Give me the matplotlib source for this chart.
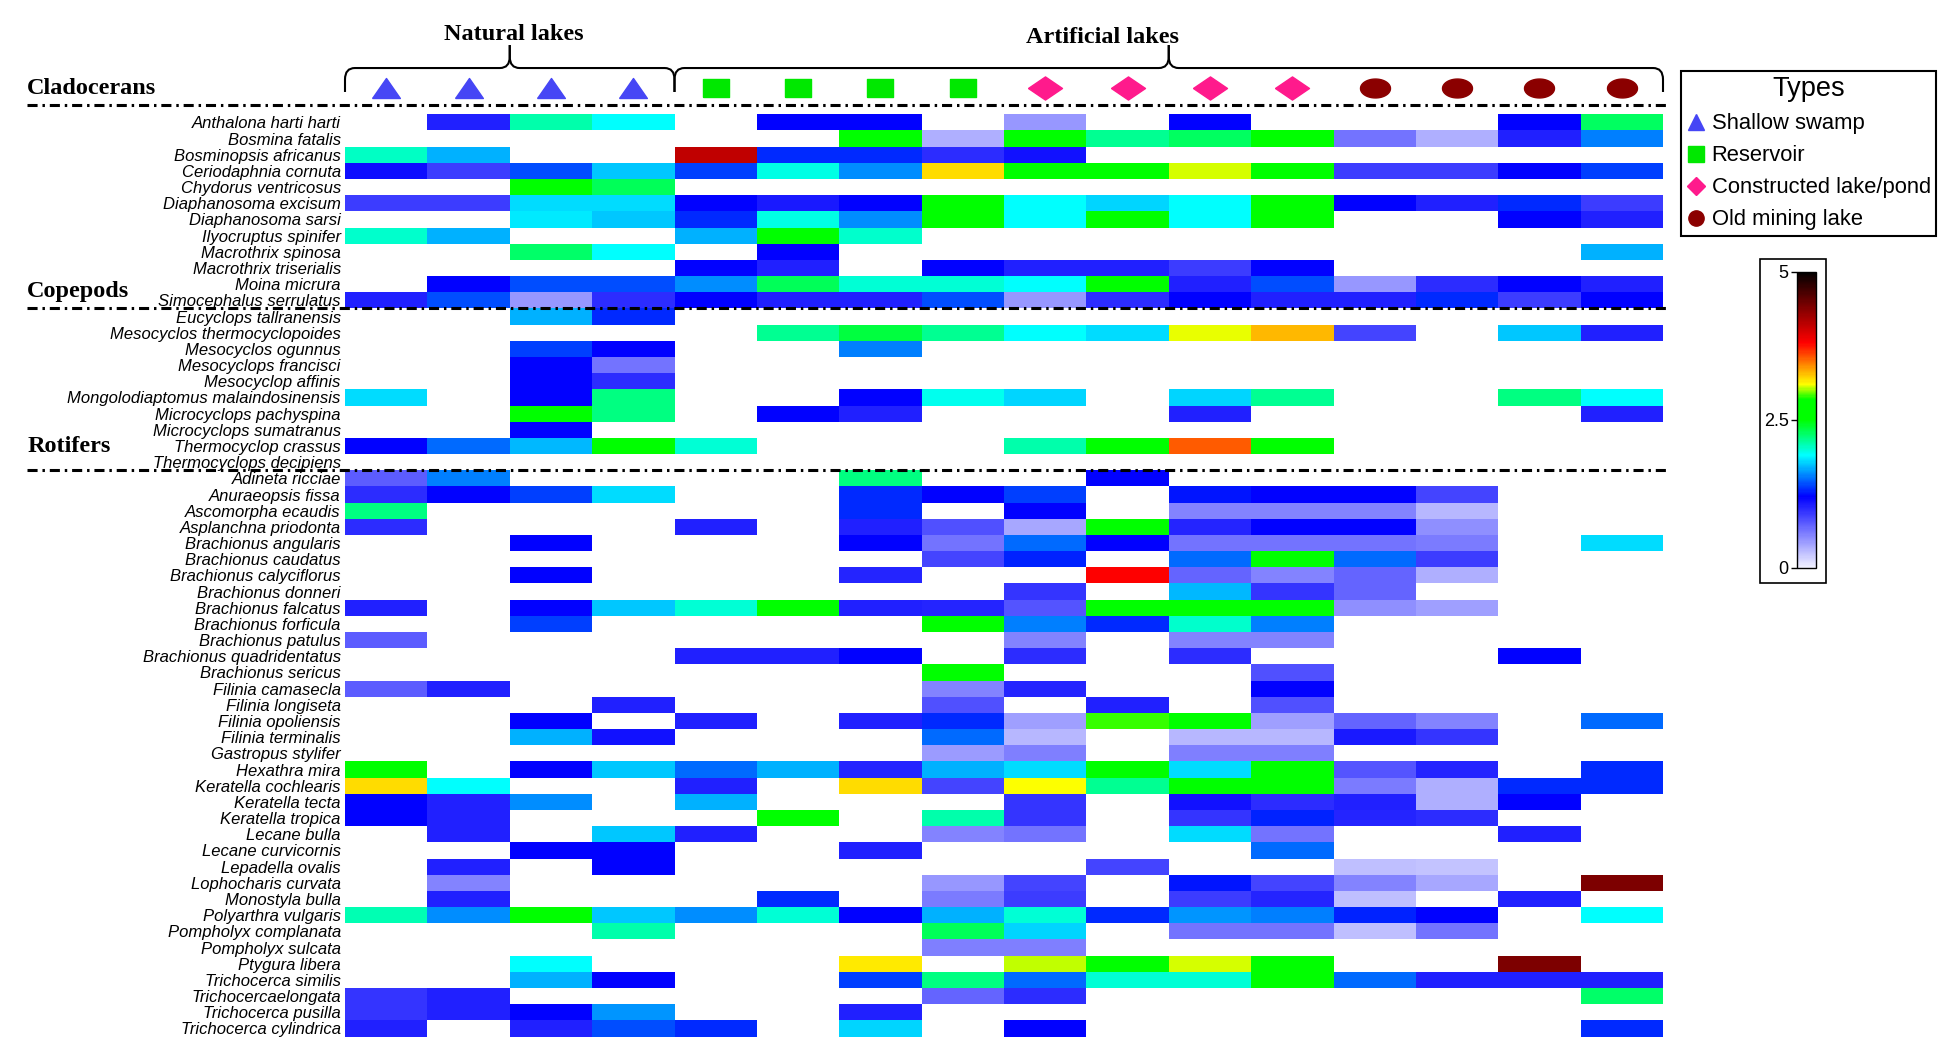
import numpy as np
import matplotlib
matplotlib.use('Agg')
import matplotlib.pyplot as plt
from matplotlib.colors import LinearSegmentedColormap, Normalize
from matplotlib.cm import ScalarMappable
from matplotlib.lines import Line2D
from matplotlib.path import Path
from matplotlib.patches import PathPatch, Rectangle

nan = np.nan

# 16 lakes, 4 of each type
lake_types = (['Shallow swamp'] * 4 + ['Reservoir'] * 4 +
              ['Constructed lake/pond'] * 4 + ['Old mining lake'] * 4)

cladoceran_names = [
    'Anthalona harti harti', 'Bosmina fatalis', 'Bosminopsis africanus',
    'Ceriodaphnia cornuta', 'Chydorus ventricosus', 'Diaphanosoma excisum',
    'Diaphanosoma sarsi', 'Ilyocruptus spinifer', 'Macrothrix spinosa',
    'Macrothrix triserialis', 'Moina micrura', 'Simocephalus serrulatus',
]
cladoceran_vals = [
    [nan, 1.05, 2.1, 1.9, nan, 1.2, 1.2, nan, 0.45, nan, 1.2, nan, nan, nan, 1.2, 2.27],
    [nan, nan, nan, nan, nan, nan, 2.6, 0.35, 2.6, 2.15, 2.27, 2.6, 0.63, 0.35, 1.05, 1.55],
    [2.05, 1.68, nan, nan, 4.1, 1.32, 1.32, 0.98, 1.12, nan, nan, nan, nan, nan, nan, nan],
    [1.15, 0.9, 1.42, 1.75, 1.37, 1.97, 1.6, 3.2, 2.6, 2.6, 3.05, 2.6, 0.9, 0.9, 1.2, 1.37],
    [nan, nan, 2.6, 2.3, nan, nan, nan, nan, nan, nan, nan, nan, nan, nan, nan, nan],
    [0.9, 0.9, 1.8, 1.8, 1.2, 1.08, 1.2, 2.6, 1.9, 1.78, 1.9, 2.6, 1.2, 1.05, 1.32, 0.9],
    [nan, nan, 1.85, 1.75, 1.32, 1.97, 1.6, 2.6, 1.9, 2.6, 1.9, 2.6, nan, nan, 1.2, 1.05],
    [2.03, 1.68, nan, nan, 1.68, 2.6, 2.03, nan, nan, nan, nan, nan, nan, nan, nan, nan],
    [nan, nan, 2.25, 1.9, nan, 1.2, nan, nan, nan, nan, nan, nan, nan, nan, nan, 1.68],
    [nan, nan, nan, nan, 1.2, 1.05, nan, 1.2, 1.05, 1.05, 0.9, 1.2, nan, nan, nan, nan],
    [nan, 1.2, 1.42, 1.42, 1.6, 2.3, 2.0, 2.0, 1.9, 2.6, 1.05, 1.42, 0.45, 0.98, 1.2, 1.05],
    [1.05, 1.42, 0.45, 0.98, 1.2, 1.05, 1.05, 1.42, 0.45, 0.98, 1.2, 1.05, 1.05, 1.32, 0.9, 1.2],
]

copepod_names = [
    'Eucyclops tallranensis', 'Mesocyclos thermocyclopoides', 'Mesocyclos ogunnus',
    'Mesocyclops francisci', 'Mesocyclop affinis', 'Mongolodiaptomus malaindosinensis',
    'Microcyclops pachyspina', 'Microcyclops sumatranus', 'Thermocyclop crassus',
    'Thermocyclops decipiens',
]
copepod_vals = [
    [nan, nan, 1.68, 1.32, nan, nan, nan, nan, nan, nan, nan, nan, nan, nan, nan, nan],
    [nan, nan, nan, nan, nan, 2.15, 2.35, 2.15, 1.9, 1.8, 3.07, 3.3, 0.87, nan, 1.74, 1.05],
    [nan, nan, 1.37, 1.2, nan, nan, 1.55, nan, nan, nan, nan, nan, nan, nan, nan, nan],
    [nan, nan, 1.2, 0.63, nan, nan, nan, nan, nan, nan, nan, nan, nan, nan, nan, nan],
    [nan, nan, 1.2, 0.98, nan, nan, nan, nan, nan, nan, nan, nan, nan, nan, nan, nan],
    [1.8, nan, 1.2, 2.2, nan, nan, 1.2, 1.95, 1.78, nan, 1.78, 2.15, nan, nan, 2.2, 1.9],
    [nan, nan, 2.6, 2.2, nan, 1.2, 1.05, nan, nan, nan, 1.05, nan, nan, nan, nan, 1.05],
    [nan, nan, 1.2, nan, nan, nan, nan, nan, nan, nan, nan, nan, nan, nan, nan, nan],
    [1.2, 1.5, 1.7, 2.6, 2.0, nan, nan, nan, 2.1, 2.6, 3.55, 2.6, nan, nan, nan, nan],
    [nan, nan, nan, nan, nan, nan, nan, nan, nan, nan, nan, nan, nan, nan, nan, nan],
]

rotifer_names = [
    'Adineta ricciae', 'Anuraeopsis fissa', 'Ascomorpha ecaudis', 'Asplanchna priodonta',
    'Brachionus angularis', 'Brachionus caudatus', 'Brachionus calyciflorus',
    'Brachionus donneri', 'Brachionus falcatus', 'Brachionus forficula',
    'Brachionus patulus', 'Brachionus quadridentatus', 'Brachionus sericus',
    'Filinia camasecla', 'Filinia longiseta', 'Filinia opoliensis', 'Filinia terminalis',
    'Gastropus stylifer', 'Hexathra mira', 'Keratella cochlearis', 'Keratella tecta',
    'Keratella tropica', 'Lecane bulla', 'Lecane curvicornis', 'Lepadella ovalis',
    'Lophocharis curvata', 'Monostyla bulla', 'Polyarthra vulgaris',
    'Pompholyx complanata', 'Pompholyx sulcata', 'Ptygura libera', 'Trichocerca similis',
    'Trichocercaelongata', 'Trichocerca pusilla', 'Trichocerca cylindrica',
]
rotifer_vals = [
    [0.75, 1.55, nan, nan, nan, nan, 2.2, nan, nan, 1.2, nan, nan, nan, nan, nan, nan],
    [0.98, 1.2, 1.37, 1.8, nan, nan, 1.32, 1.2, 1.37, nan, 1.25, 1.2, 1.2, 0.87, nan, nan],
    [2.2, nan, nan, nan, nan, nan, 1.32, nan, 1.2, nan, 0.55, 0.55, 0.55, 0.3, nan, nan],
    [0.98, nan, nan, nan, 1.05, nan, 1.05, 0.82, 0.38, 2.6, 1.02, 1.2, 1.2, 0.5, nan, nan],
    [nan, nan, 1.2, nan, nan, nan, 1.2, 0.63, 1.5, 1.2, 0.63, 0.63, 0.63, 0.6, nan, 1.8],
    [nan, nan, nan, nan, nan, nan, nan, 0.87, 1.3, nan, 1.5, 2.6, 1.5, 0.9, nan, nan],
    [nan, nan, 1.2, nan, nan, nan, 1.02, nan, nan, 3.8, 0.72, 0.55, 0.72, 0.35, nan, nan],
    [nan, nan, nan, nan, nan, nan, nan, nan, 0.95, nan, 1.7, 0.95, 0.72, nan, nan, nan],
    [1.05, nan, 1.2, 1.74, 2.0, 2.6, 1.05, 1.02, 0.8, 2.6, 2.6, 2.6, 0.5, 0.42, nan, nan],
    [nan, nan, 1.37, nan, nan, nan, nan, 2.6, 1.55, 1.32, 2.03, 1.55, nan, nan, nan, nan],
    [0.75, nan, nan, nan, nan, nan, nan, nan, 0.55, nan, 0.55, 0.55, nan, nan, nan, nan],
    [nan, nan, nan, nan, 1.05, 1.05, 1.2, nan, 0.98, nan, 0.98, nan, nan, nan, 1.2, nan],
    [nan, nan, nan, nan, nan, nan, nan, 2.6, nan, nan, nan, 0.82, nan, nan, nan, nan],
    [0.75, 1.05, nan, nan, nan, nan, nan, 0.55, 1.02, nan, nan, 1.2, nan, nan, nan, nan],
    [nan, nan, nan, 1.05, nan, nan, nan, 0.82, nan, 1.05, nan, 0.82, nan, nan, nan, nan],
    [nan, nan, 1.2, nan, 1.05, nan, 1.05, 1.32, 0.42, 2.91, 2.6, 0.42, 0.72, 0.55, nan, 1.5],
    [nan, nan, 1.68, 1.12, nan, nan, nan, 1.5, 0.3, nan, 0.3, 0.3, 1.08, 0.95, nan, nan],
    [nan, nan, nan, nan, nan, nan, nan, 0.43, 0.58, nan, 0.58, 0.58, nan, nan, nan, nan],
    [2.6, nan, 1.2, 1.74, 1.5, 1.68, 1.02, 1.68, 1.8, 2.6, 1.8, 2.6, 0.8, 1.02, nan, 1.32],
    [3.2, 1.9, nan, nan, 1.05, nan, 3.2, 0.87, 3.1, 2.15, 2.6, 2.6, 0.6, 0.35, 1.32, 1.32],
    [1.2, 1.05, 1.6, nan, 1.68, nan, nan, nan, 0.95, nan, 1.12, 0.98, 1.05, 0.35, 1.2, nan],
    [1.2, 1.05, nan, nan, nan, 2.6, nan, 2.1, 0.95, nan, 0.95, 1.3, 1.02, 0.98, nan, nan],
    [nan, 1.05, nan, 1.74, 1.05, nan, nan, 0.55, 0.63, nan, 1.8, 0.63, nan, nan, 1.05, nan],
    [nan, nan, 1.2, 1.2, nan, nan, 1.05, nan, nan, nan, nan, 1.5, nan, nan, nan, nan],
    [nan, 1.05, nan, 1.2, nan, nan, nan, nan, nan, 0.87, nan, nan, 0.27, 0.25, nan, nan],
    [nan, 0.55, nan, nan, nan, nan, nan, 0.45, 0.87, nan, 1.25, 0.87, 0.55, 0.38, nan, 4.4],
    [nan, 1.05, nan, nan, nan, 1.32, nan, 0.6, 0.9, nan, 0.9, 1.02, 0.27, nan, 1.05, nan],
    [2.08, 1.6, 2.6, 1.74, 1.6, 2.0, 1.2, 1.68, 2.0, 1.32, 1.62, 1.55, 1.3, 1.2, nan, 1.9],
    [nan, nan, nan, 2.1, nan, nan, nan, 2.3, 1.78, nan, 0.63, 0.63, 0.27, 0.63, nan, nan],
    [nan, nan, nan, nan, nan, nan, nan, 0.58, 0.58, nan, nan, nan, nan, nan, nan, nan],
    [nan, nan, 1.9, nan, nan, nan, 3.15, nan, 3.03, 2.6, 3.05, 2.6, nan, nan, 4.4, nan],
    [nan, nan, 1.68, 1.2, nan, nan, 1.37, 2.2, 1.5, 2.0, 2.0, 2.6, 1.5, 1.05, 1.05, 1.05],
    [0.95, 1.05, nan, nan, nan, nan, nan, 0.72, 0.98, nan, nan, nan, nan, nan, nan, 2.25],
    [0.95, 1.05, 1.2, 1.62, nan, nan, 1.05, nan, nan, nan, nan, nan, nan, nan, nan, nan],
    [1.05, nan, 1.05, 1.42, 1.32, nan, 1.78, nan, 1.2, nan, nan, nan, nan, nan, nan, 1.32],
]

names = cladoceran_names + copepod_names + rotifer_names
heat = np.array(cladoceran_vals + copepod_vals + rotifer_vals, dtype=float)
n_rows, n_cols = heat.shape

# colour scale
nodes = [(0, '#f2f2ff'), (1.2, '#0000ff'), (1.9, '#00ffff'), (2.5, '#00ff00'),
         (2.85, '#00ff00'), (3.1, '#ffff00'), (3.8, '#ff0000'), (4.4, '#800000'),
         (5.0, '#000000')]
cmap = LinearSegmentedColormap.from_list('abund', [(v / 5, c) for v, c in nodes])
cmap.set_bad('white')
norm = Normalize(0, 5)

W, H = 1953, 1049
fig = plt.figure(figsize=(W / 100, H / 100), dpi=100)
ax = fig.add_axes([345 / W, 1 - 1036.5 / H, 1318 / W, 922.2 / H])
ax.pcolormesh(np.arange(n_cols + 1), np.arange(n_rows + 1), np.ma.masked_invalid(heat),
              cmap=cmap, norm=norm)
ax.set_xlim(0, n_cols)
ax.set_ylim(n_rows, 0)
ax.set_xticks([])
ax.set_yticks(np.arange(n_rows) + 0.5)
ax.set_yticklabels(names, fontstyle='italic', fontsize=12,
                   family=['Liberation Sans Narrow', 'Liberation Sans', 'DejaVu Sans'])
ax.tick_params(length=0, pad=3)
for s in ax.spines.values():
    s.set_visible(False)

# dash-dot separators between groups
sep_ls = (0, (3.3, 1.6, 0.8, 1.6))
for y in [-0.57, len(cladoceran_names), len(cladoceran_names) + len(copepod_names)]:
    ax.plot([-3.86, 16.08], [y, y], color='black', lw=2.2, ls=sep_ls, clip_on=False)

serif = dict(family=['Liberation Serif', 'DejaVu Serif'], weight='bold', fontsize=17.5)
ax.text(-3.86, -1.62, 'Cladocerans', ha='left', va='center', **serif)
ax.text(-3.86, 10.95, 'Copepods', ha='left', va='center', **serif)
ax.text(-3.86, 20.55, 'Rotifers', ha='left', va='center', **serif)

# lake type markers above the columns (stretched like in the original)
type_style = {
    'Shallow swamp': ('#4646f5', Path([(-1, -0.72), (1, -0.72), (0, 0.72), (-1, -0.72)]), 20, '^', 12),
    'Reservoir': ('#00e800', Path([(-1, -0.7), (1, -0.7), (1, 0.7), (-1, 0.7), (-1, -0.7)]), 19.4, 's', 11),
    'Constructed lake/pond': ('#ff1a8c', Path([(-1, 0), (0, -0.68), (1, 0), (0, 0.68), (-1, 0)]), 24.5, 'D', 9.5),
    'Old mining lake': ('#8b0000', Path([(np.cos(t), 0.63 * np.sin(t)) for t in np.linspace(0, 2 * np.pi, 60)]), 21.6, 'o', 11),
}
for t, (col, path, ms, _, _) in type_style.items():
    xs = [i + 0.5 for i, lt in enumerate(lake_types) if lt == t]
    ax.plot(xs, [-1.62] * len(xs), ls='none', marker=path, ms=ms, color=col,
            mec=col, clip_on=False)


def brace(x0, x1, y_end, y_h, y_tip, rx=0.12, ry=0.7):
    xm = (x0 + x1) / 2
    for xe, sgn in [(x0, 1), (x1, -1)]:
        verts = [(xe, y_end), (xe, y_h + ry), (xe, y_h), (xe + sgn * rx, y_h),
                 (xm - sgn * rx, y_h), (xm, y_h), (xm, y_h - ry), (xm, y_tip)]
        codes = [Path.MOVETO, Path.LINETO, Path.CURVE3, Path.CURVE3,
                 Path.LINETO, Path.CURVE3, Path.CURVE3, Path.LINETO]
        ax.add_patch(PathPatch(Path(verts, codes), fill=False, lw=1.5,
                               ec='black', clip_on=False))


brace(0, 4, -1.38, -2.86, -4.28)
brace(4, 16, -1.38, -2.86, -4.28)
ax.text(2.05, -4.95, 'Natural lakes', ha='center', va='center', **serif)
ax.text(9.19, -4.75, 'Artificial lakes', ha='center', va='center', **serif)

# legend
sans = ['Liberation Sans', 'DejaVu Sans']
handles = [Line2D([], [], ls='none', marker=m, color=c, mec=c, ms=lms)
           for t, (c, _, _, m, lms) in type_style.items()]
leg = fig.legend(handles, list(type_style.keys()), title='Types', loc='upper left',
                 bbox_to_anchor=(1681 / W, 1 - 71 / H), borderaxespad=0,
                 fancybox=False, edgecolor='black', framealpha=1,
                 prop={'family': sans, 'size': 15.8},
                 title_fontproperties={'family': sans, 'size': 19.5},
                 borderpad=0.25, handletextpad=0.25, labelspacing=0.5, handlelength=0.9)
leg.get_frame().set_linewidth(1.5)

# colour bar with its frame
cax = fig.add_axes([1797 / W, 1 - 568 / H, 19 / W, 296.5 / H])
cb = fig.colorbar(ScalarMappable(norm=norm, cmap=cmap), cax=cax, ticks=[0, 2.5, 5])
cax.yaxis.set_ticks_position('left')
cax.set_yticklabels(['0', '2.5', '5'], fontsize=13, family=sans)
cax.tick_params(length=4, width=1, pad=2)
cb.outline.set_linewidth(1)
fig.add_artist(Rectangle((1760 / W, 1 - 583 / H), 66 / W, 324 / H, transform=fig.transFigure,
                         fill=False, lw=1.2, ec='black'))

fig.savefig('out.png', dpi=100)
